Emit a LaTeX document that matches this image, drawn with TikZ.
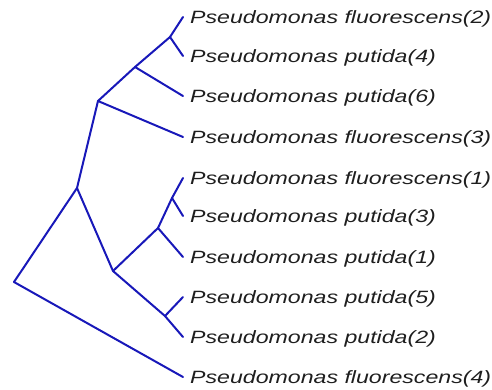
\documentclass[tikz,border=0pt]{standalone}
\usepackage{fontspec}
\usepackage{graphicx}
\newfontfamily\lsans{Liberation Sans}
\definecolor{treeblue}{RGB}{24,24,185}
\definecolor{labelgray}{RGB}{30,30,30}
\tikzset{
  branch/.style={draw=treeblue, line width=2pt, line cap=round, line join=round},
  leaflabel/.style={anchor=base west, inner sep=0pt, text=labelgray,
    font=\lsans\itshape\fontsize{17.8}{20}\selectfont}
}
\newcommand{\lbl}[1]{\scalebox{1.30}[1]{#1}}
\begin{document}
\begin{tikzpicture}[x=1pt,y=-1pt]
\useasboundingbox (0,0) rectangle (492,389);
% leaves
\coordinate (l1) at (183,17);
\coordinate (l2) at (183,56);
\coordinate (l3) at (183,96);
\coordinate (l4) at (183,137);
\coordinate (l5) at (183,178);
\coordinate (l6) at (183,216);
\coordinate (l7) at (183,257);
\coordinate (l8) at (183,297);
\coordinate (l9) at (183,337);
\coordinate (l10) at (183,377);
% internal nodes
\coordinate (A) at (170,37);
\coordinate (B) at (135,67);
\coordinate (C) at (98,101);
\coordinate (D) at (77,188);
\coordinate (R) at (14,282);
\coordinate (E) at (113,271);
\coordinate (F) at (158,228);
\coordinate (G) at (172,198);
\coordinate (H) at (165,316);
% branches
\draw[branch] (R) -- (D);
\draw[branch] (R) -- (l10);
\draw[branch] (D) -- (C);
\draw[branch] (D) -- (E);
\draw[branch] (C) -- (B);
\draw[branch] (C) -- (l4);
\draw[branch] (B) -- (A);
\draw[branch] (B) -- (l3);
\draw[branch] (A) -- (l1);
\draw[branch] (A) -- (l2);
\draw[branch] (E) -- (F);
\draw[branch] (E) -- (H);
\draw[branch] (H) -- (l9);
\draw[branch] (H) -- (l8);
\draw[branch] (F) -- (G);
\draw[branch] (F) -- (l7);
\draw[branch] (G) -- (l5);
\draw[branch] (G) -- (l6);
% labels
\node[leaflabel] (t1) at (190,23.5) {\lbl{Pseudomonas fluorescens(2)}};
\node[leaflabel] (t2) at (190,62.5) {\lbl{Pseudomonas putida(4)}};
\node[leaflabel] (t3) at (190,102.5) {\lbl{Pseudomonas putida(6)}};
\node[leaflabel] (t4) at (190,143.5) {\lbl{Pseudomonas fluorescens(3)}};
\node[leaflabel] (t5) at (190,184.5) {\lbl{Pseudomonas fluorescens(1)}};
\node[leaflabel] (t6) at (190,222.5) {\lbl{Pseudomonas putida(3)}};
\node[leaflabel] (t7) at (190,263.5) {\lbl{Pseudomonas putida(1)}};
\node[leaflabel] (t8) at (190,303.5) {\lbl{Pseudomonas putida(5)}};
\node[leaflabel] (t9) at (190,343.5) {\lbl{Pseudomonas putida(2)}};
\node[leaflabel] (t10) at (190,383.5) {\lbl{Pseudomonas fluorescens(4)}};
\end{tikzpicture}
\end{document}
